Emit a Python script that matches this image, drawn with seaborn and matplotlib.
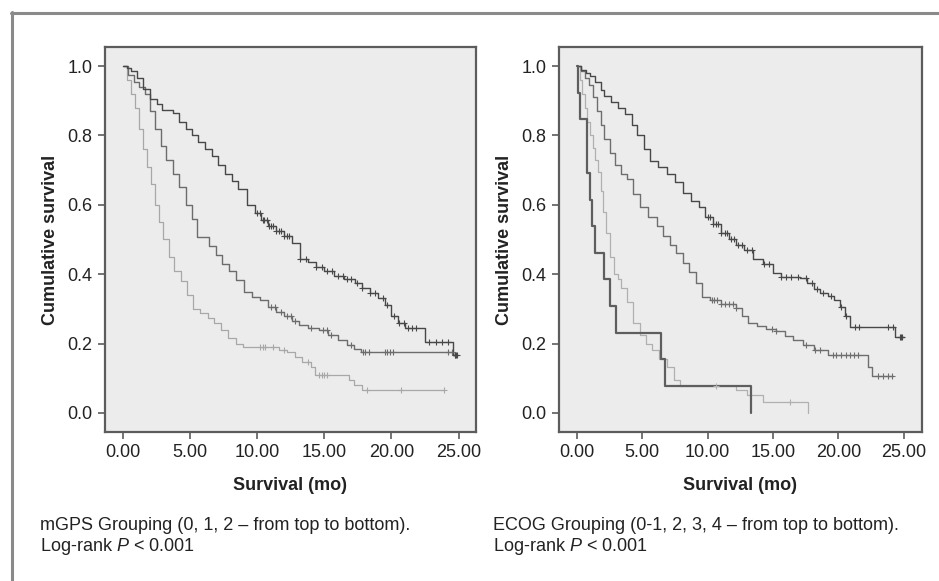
import numpy as np
import seaborn as sns
import matplotlib.pyplot as plt
from matplotlib.lines import Line2D

# ---- left panel: mGPS groups (0, 1, 2) ----
mgps0_t = [0, 0.3, 0.6, 1.0, 1.5, 2.0, 2.5, 2.9, 3.7, 4.2, 4.7, 5.1, 5.6, 6.1, 6.6, 7.1, 7.6, 8.1, 8.6, 9.2,
           9.8, 10.3, 10.8, 11.4, 12.0, 12.6, 13.2, 13.8, 14.4, 15.0, 15.7, 16.5, 17.3, 17.8, 18.4, 19.0, 19.5,
           20.0, 20.5, 21.0, 22.5, 24.6]
mgps0_s = [1.0, 0.995, 0.985, 0.965, 0.935, 0.905, 0.89, 0.872, 0.865, 0.84, 0.82, 0.80, 0.78, 0.76, 0.74, 0.715,
           0.69, 0.67, 0.645, 0.60, 0.575, 0.555, 0.54, 0.525, 0.51, 0.49, 0.445, 0.435, 0.42, 0.41, 0.395, 0.385,
           0.375, 0.36, 0.345, 0.33, 0.31, 0.28, 0.26, 0.245, 0.205, 0.167]
mgps0_end = 24.9
mgps0_cens = [10.0, 10.2, 10.4, 10.5, 10.7, 10.9, 11.0, 11.2, 11.4, 11.6, 11.8, 12.0, 12.2, 12.4, 13.2, 13.6,
              14.4, 14.8, 15.2, 15.6, 16.0, 16.4, 16.7, 17.0, 17.4, 17.8, 18.4, 18.8, 19.4, 19.7, 20.2, 20.6,
              20.9, 21.2, 21.5, 21.8, 22.8, 23.3, 23.8, 24.2, 24.7, 24.8, 24.9]

mgps1_t = [0, 0.4, 0.8, 1.2, 1.6, 2.0, 2.4, 2.8, 3.2, 3.7, 4.2, 4.7, 5.1, 5.5, 6.4, 6.9, 7.4, 7.9, 8.4, 9.0,
           9.6, 10.2, 10.8, 11.4, 12.0, 12.6, 13.1, 13.8, 14.6, 15.3, 16.0, 16.7, 17.2, 17.7, 24.6]
mgps1_s = [1.0, 0.975, 0.955, 0.94, 0.92, 0.87, 0.82, 0.77, 0.73, 0.69, 0.65, 0.60, 0.56, 0.507, 0.48, 0.455,
           0.43, 0.41, 0.383, 0.35, 0.335, 0.325, 0.305, 0.29, 0.28, 0.265, 0.254, 0.245, 0.238, 0.225, 0.21,
           0.195, 0.185, 0.176, 0.167]
mgps1_end = 24.8
mgps1_cens = [11.0, 11.3, 11.8, 12.2, 12.5, 12.8, 14.0, 14.9, 15.2, 15.5, 17.0, 17.9, 18.0, 18.3, 19.5, 19.7,
              19.9, 20.1, 24.2, 24.5, 24.7]

mgps2_t = [0, 0.3, 0.6, 0.9, 1.2, 1.5, 1.8, 2.1, 2.4, 2.7, 3.0, 3.4, 3.8, 4.3, 4.8, 5.2, 5.7, 6.3, 6.8, 7.3,
           7.8, 8.4, 8.9, 11.6, 12.2, 12.8, 13.3, 14.0, 14.3, 16.8, 17.2, 17.8]
mgps2_s = [1.0, 0.96, 0.92, 0.88, 0.82, 0.76, 0.71, 0.66, 0.60, 0.55, 0.50, 0.45, 0.41, 0.38, 0.34, 0.30, 0.288,
           0.275, 0.26, 0.24, 0.215, 0.20, 0.19, 0.182, 0.176, 0.16, 0.148, 0.133, 0.11, 0.095, 0.08, 0.066]
mgps2_end = 23.9
mgps2_cens = [10.2, 10.4, 10.6, 11.2, 12.0, 13.8, 14.6, 14.8, 15.0, 15.2, 18.2, 20.7, 23.9]

# ---- right panel: ECOG groups (0-1, 2, 3, 4) ----
ecog01_t = [0, 0.3, 0.7, 1.0, 1.4, 1.8, 2.1, 2.6, 3.1, 3.7, 4.2, 4.6, 5.1, 5.6, 6.2, 6.9, 7.5, 8.1, 8.7, 9.3,
            9.8, 10.4, 11.0, 11.6, 12.2, 12.8, 13.5, 14.2, 15.0, 15.6, 17.1, 17.6, 18.1, 18.6, 19.2, 19.7, 20.1,
            20.5, 20.9, 24.3]
ecog01_s = [1.0, 0.99, 0.98, 0.97, 0.954, 0.93, 0.913, 0.895, 0.88, 0.861, 0.83, 0.80, 0.76, 0.725, 0.71, 0.69,
            0.665, 0.635, 0.61, 0.595, 0.565, 0.545, 0.52, 0.50, 0.485, 0.47, 0.445, 0.43, 0.404, 0.393, 0.39,
            0.375, 0.356, 0.345, 0.338, 0.325, 0.306, 0.28, 0.249, 0.22]
ecog01_end = 25.0
ecog01_cens = [10.0, 10.2, 10.4, 10.6, 10.8, 11.0, 11.3, 11.5, 11.8, 12.0, 12.3, 12.6, 13.0, 13.4, 14.3, 14.7,
               15.6, 16.0, 16.4, 16.9, 17.5, 18.0, 18.4, 18.8, 19.4, 20.2, 20.6, 21.3, 21.6, 23.8, 24.2, 24.7,
               24.8, 24.9]

ecog2_t = [0, 0.3, 0.6, 0.9, 1.2, 1.5, 1.8, 2.1, 2.5, 2.9, 3.4, 3.8, 4.3, 4.8, 5.4, 6.1, 6.6, 7.1, 7.6, 8.1,
           8.6, 9.1, 9.6, 10.2, 11.0, 12.2, 12.6, 13.1, 13.8, 14.5, 15.2, 15.9, 16.5, 17.3, 18.1, 19.2, 22.3, 22.6]
ecog2_s = [1.0, 0.985, 0.965, 0.945, 0.91, 0.87, 0.83, 0.79, 0.75, 0.715, 0.69, 0.673, 0.63, 0.595, 0.565, 0.538,
           0.51, 0.485, 0.46, 0.433, 0.405, 0.375, 0.335, 0.325, 0.315, 0.303, 0.28, 0.26, 0.25, 0.243, 0.235,
           0.222, 0.211, 0.195, 0.182, 0.168, 0.133, 0.107]
ecog2_end = 24.2
ecog2_cens = [10.3, 10.5, 10.7, 11.0, 11.3, 11.6, 11.9, 12.2, 14.9, 15.2, 17.5, 18.2, 18.6, 19.6, 19.8, 20.2,
              20.6, 20.9, 21.2, 21.5, 23.0, 23.4, 23.8, 24.1]

ecog3_t = [0, 0.2, 0.4, 0.6, 0.8, 1.0, 1.2, 1.4, 1.6, 1.8, 2.0, 2.2, 2.5, 2.8, 3.1, 3.4, 3.8, 4.3, 4.8, 5.3,
           5.7, 6.3, 6.9, 7.4, 7.9, 12.2, 13.0, 14.2, 17.7]
ecog3_s = [1.0, 0.96, 0.92, 0.88, 0.838, 0.80, 0.765, 0.73, 0.694, 0.64, 0.58, 0.52, 0.45, 0.40, 0.385, 0.36,
           0.32, 0.26, 0.225, 0.20, 0.18, 0.155, 0.133, 0.095, 0.077, 0.066, 0.052, 0.03, 0.0]
ecog3_end = 17.7
ecog3_cens = [10.6, 16.3]

ecog4_t = [0, 0.05, 0.2, 0.75, 1.0, 1.15, 1.4, 2.1, 2.5, 3.0, 6.4, 6.7, 13.3]
ecog4_s = [1.0, 0.923, 0.846, 0.692, 0.615, 0.538, 0.462, 0.385, 0.308, 0.231, 0.154, 0.077, 0.0]
ecog4_end = 13.3
ecog4_cens = []

SPINE = '#5c5c5c'


def km_curve(ax, t, s, end, cens, color, lw=1.0):
    # step curve through the event times, extended flat to the last follow-up
    t = list(t)
    s = list(s)
    if end > t[-1]:
        t.append(end)
        s.append(s[-1])
    sns.lineplot(x=t, y=s, ax=ax, color=color, lw=lw, drawstyle='steps-post',
                 estimator=None, sort=False)
    if cens:
        idx = np.searchsorted(t, cens, side='right') - 1
        ys = np.array(s)[idx]
        sns.scatterplot(x=cens, y=ys, ax=ax, marker='+', color=color, s=24, linewidth=0.8, zorder=3)


def style_axis(ax, xlim):
    ax.set_facecolor('#ececec')
    ax.set_xlim(*xlim)
    ax.set_ylim(-0.055, 1.055)
    ax.set_xticks([0, 5, 10, 15, 20, 25])
    ax.set_xticklabels(['0.00', '5.00', '10.00', '15.00', '20.00', '25.00'])
    ax.set_yticks([0.0, 0.2, 0.4, 0.6, 0.8, 1.0])
    ax.set_yticklabels(['0.0', '0.2', '0.4', '0.6', '0.8', '1.0'])
    ax.tick_params(labelsize=13, length=5, width=1.2, color=SPINE, labelcolor='#222222', pad=4)
    for sp in ax.spines.values():
        sp.set_color(SPINE)
        sp.set_linewidth(1.6)
        sp.set_visible(True)
    ax.set_xlabel('Survival (mo)', fontsize=13, fontweight='bold', labelpad=11, color='#222222')
    ax.set_ylabel('Cumulative survival', fontsize=13, fontweight='bold', labelpad=6, color='#222222')


sns.set_theme(style='ticks')
plt.rcParams['font.family'] = ['Liberation Sans', 'DejaVu Sans']
plt.rcParams['mathtext.fontset'] = 'custom'
plt.rcParams['mathtext.rm'] = 'Liberation Sans'
plt.rcParams['mathtext.it'] = 'Liberation Sans:italic'

fig = plt.figure(figsize=(9.39, 5.81), dpi=100)
ax1 = fig.add_axes([0.1118, 0.2565, 0.3951, 0.6626])
ax2 = fig.add_axes([0.5953, 0.2565, 0.3866, 0.6626])

km_curve(ax1, mgps2_t, mgps2_s, mgps2_end, mgps2_cens, '#a8a8a8', 0.9)
km_curve(ax1, mgps1_t, mgps1_s, mgps1_end, mgps1_cens, '#6c6c6c', 1.0)
km_curve(ax1, mgps0_t, mgps0_s, mgps0_end, mgps0_cens, '#484848', 1.0)
style_axis(ax1, (-1.35, 26.3))

km_curve(ax2, ecog3_t, ecog3_s, ecog3_end, ecog3_cens, '#b0b0b0', 0.9)
km_curve(ax2, ecog2_t, ecog2_s, ecog2_end, ecog2_cens, '#6e6e6e', 1.0)
km_curve(ax2, ecog01_t, ecog01_s, ecog01_end, ecog01_cens, '#484848', 1.0)
km_curve(ax2, ecog4_t, ecog4_s, ecog4_end, ecog4_cens, '#5e5e5e', 1.6)
style_axis(ax2, (-1.38, 26.4))

# captions under each panel
fig.text(40 / 939, 1 - 530 / 581, 'mGPS Grouping (0, 1, 2 \u2013 from top to bottom).',
         fontsize=13, color='#222222', va='baseline')
fig.text(40 / 939, 1 - 551 / 581, 'Log-rank $P$ < 0.001', fontsize=13, color='#222222', va='baseline')
fig.text(493 / 939, 1 - 530 / 581, 'ECOG Grouping (0-1, 2, 3, 4 \u2013 from top to bottom).',
         fontsize=13, color='#222222', va='baseline')
fig.text(493 / 939, 1 - 551 / 581, 'Log-rank $P$ < 0.001', fontsize=13, color='#222222', va='baseline')

# outer frame (top and left edges)
fig.add_artist(Line2D([11 / 939, 1.0], [1 - 13 / 581, 1 - 13 / 581], color='#8a8a8a', lw=2.2,
                      transform=fig.transFigure))
fig.add_artist(Line2D([12 / 939, 12 / 939], [0.0, 1 - 12 / 581], color='#8a8a8a', lw=2.2,
                      transform=fig.transFigure))

fig.savefig('out.png', dpi=100, facecolor='white')
